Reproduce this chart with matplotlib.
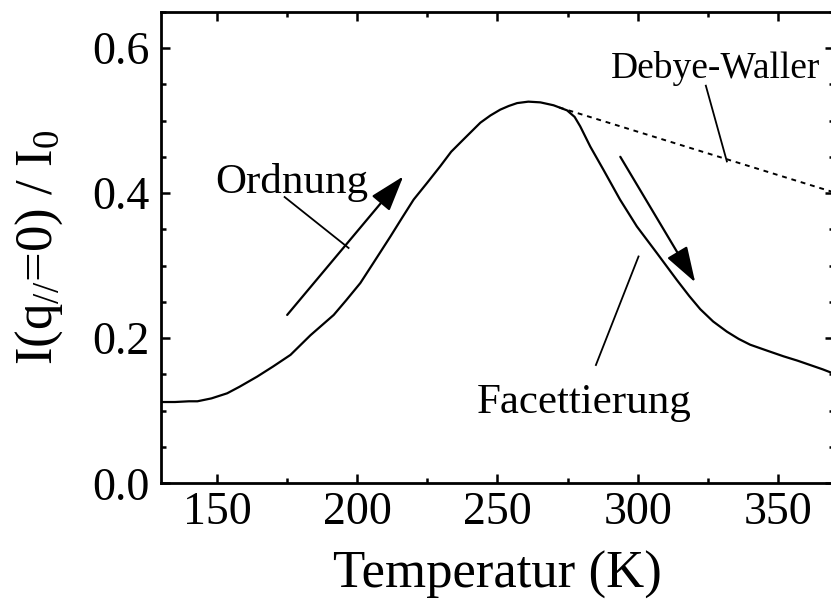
import matplotlib.pyplot as plt
from matplotlib.ticker import MultipleLocator

plt.rcParams['font.family'] = ['Liberation Serif', 'DejaVu Serif']
plt.rcParams['mathtext.fontset'] = 'custom'
plt.rcParams['mathtext.rm'] = 'Liberation Serif'
plt.rcParams['mathtext.it'] = 'Liberation Serif:italic'

temp = [130, 135, 140, 143, 148, 153.6, 158, 164.3, 170, 176.2, 183.3, 191.6,
        196, 201.1, 205.8, 211.8, 216.0, 220.1, 224.9, 229.6, 233.5, 237.9,
        243.9, 247.5, 251.0, 254.0, 257.0, 261, 265.3, 270.0, 274.8, 277.5,
        279.5, 283.1, 287.8, 293.7, 299.7, 306.9, 314.0, 318.4, 322.3, 326.9,
        331.8, 336.0, 340.1, 346.0, 352.0, 357.0, 361.5, 366.0, 370]
inten = [0.112, 0.112, 0.113, 0.113, 0.117, 0.124, 0.133, 0.147, 0.161, 0.177,
         0.204, 0.232, 0.252, 0.276, 0.304, 0.340, 0.366, 0.391, 0.414, 0.437,
         0.457, 0.474, 0.497, 0.507, 0.515, 0.520, 0.524, 0.526, 0.525, 0.521,
         0.514, 0.505, 0.492, 0.464, 0.432, 0.391, 0.354, 0.317, 0.280, 0.258,
         0.240, 0.223, 0.209, 0.199, 0.191, 0.183, 0.175, 0.169, 0.163, 0.157,
         0.151]

# Debye-Waller extrapolation
dw_temp = [272, 370]
dw_inten = [0.518, 0.401]

fig = plt.figure(figsize=(8.31, 5.99), dpi=100)
ax = fig.add_axes([0.1937, 0.1932, 0.8099, 0.7873])

ax.plot(temp, inten, color='k', lw=1.6)
ax.plot(dw_temp, dw_inten, color='k', lw=1.4, dashes=(2.5, 2.5))

ax.set_xlim(130, 370)
ax.set_ylim(0, 0.65)
ax.xaxis.set_major_locator(MultipleLocator(50))
ax.xaxis.set_minor_locator(MultipleLocator(25))
ax.yaxis.set_major_locator(MultipleLocator(0.2))
ax.yaxis.set_minor_locator(MultipleLocator(0.05))
ax.tick_params(which='both', direction='in', top=True, right=True,
               width=1.8, labelsize=33)
ax.tick_params(which='major', length=6.5)
ax.tick_params(which='minor', length=3.5)
ax.tick_params(axis='x', pad=6)
ax.tick_params(axis='y', pad=8)
for s in ax.spines.values():
    s.set_linewidth(2.0)

ax.set_xlabel('Temperatur (K)', fontsize=38, labelpad=12)
ax.set_ylabel(r'I(q$_{//}$=0) / I$_0$', fontsize=38, labelpad=20)

# arrows
arr = dict(arrowstyle='-|>,head_length=1.1,head_width=0.36', mutation_scale=20,
           lw=1.6, color='k', shrinkA=0, shrinkB=0)
ax.annotate('', xy=(216.4, 0.423), xytext=(175, 0.232), arrowprops=arr)
ax.annotate('', xy=(320.5, 0.277), xytext=(293.8, 0.450), arrowprops=arr)

# labels with leader lines
ax.text(176.7, 0.40, 'Ordnung', fontsize=31, ha='center', va='baseline')
ax.plot([174.1, 196.9], [0.3945, 0.3243], color='k', lw=1.3)
ax.text(281, 0.097, 'Facettierung', fontsize=31, ha='center', va='baseline')
ax.plot([300.3, 285.1], [0.3126, 0.163], color='k', lw=1.3)
ax.text(327.7, 0.5586, 'Debye-Waller', fontsize=27, ha='center', va='baseline')
ax.plot([324.3, 331.8], [0.548, 0.4436], color='k', lw=1.3)

fig.savefig('out.png', dpi=100)
